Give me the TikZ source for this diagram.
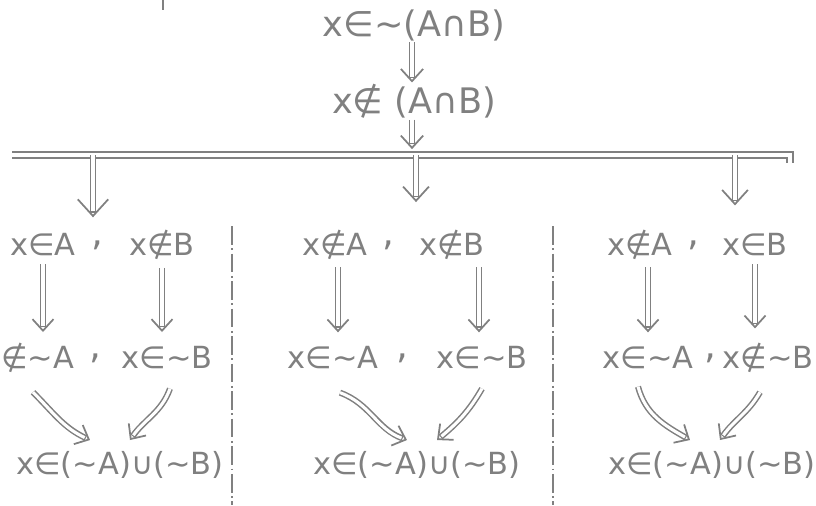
\documentclass[tikz,border=0pt]{standalone}
\usepackage{fontspec}
\setmainfont{DejaVu Sans}
\usetikzlibrary{arrows.meta,decorations.markings}
\definecolor{pencil}{HTML}{808080}

\begin{document}
\begin{tikzpicture}[x=0.03cm, y=-0.03cm, font=\fontsize{26}{30}\selectfont]
        \tikzset{stmt/.style={text=pencil, inner sep=1pt}, bigstmt/.style={stmt, font=\fontsize{30}{34}\selectfont}, commamark/.style={text=pencil, inner sep=1pt, font=\fontsize{32}{34}\selectfont}, headsize/.store in=\headw, headsize=18pt,
          imp/.style={draw=pencil, line width=5.2pt, shorten >=4pt, postaction={draw=white, line width=2.6pt, shorten >=5pt}, postaction={decorate, decoration={markings, mark=at position 1 with {\arrow[pencil, line width=1.5pt]{Straight Barb[length=0.55*\headw, width=\headw]}}}}},
          sep/.style={draw=pencil, line width=1.5pt, dash pattern=on 16pt off 3pt on 1.5pt off 3pt}}
        \useasboundingbox (0,0) rectangle (816,505);
        \draw[pencil, line width=1.5pt] (163,0) -- (163,10);
        \node[bigstmt] (top) at (414,25) {x∈∼(A∩B)};
        \node[bigstmt] (mid) at (414,101) {x∉ (A∩B)};
        \coordinate (bl) at (93,155);
        \coordinate (bm) at (416,155);
        \coordinate (br) at (735,155);
        \coordinate (bt) at (412,155);
        \draw[pencil, line width=1.3pt, double=white, double distance=4pt] (12,155) -- (790,155) -- (790,163);
        \draw[imp, headsize=19pt] (top.south -| bt) -- (mid.north -| bt);
        \draw[imp, headsize=19pt] (mid.south -| bt) -- ([yshift=5pt]bt);
        % left column
        \node[stmt] (l1a) at (43,245) {x∈A};
        \node[commamark] (l1c) at (97,245) {,};
        \node[stmt] (l1b) at (162,245) {x∉B};
        \node[stmt, anchor=west] (l2a) at (0,358) {∉∼A};
        \node[commamark] (l2c) at (95,358) {,};
        \node[stmt] (l2b) at (167,358) {x∈∼B};
        \node[stmt] (l3) at (120,465) {x∈(∼A)∪(∼B)};
        % middle column
        \node[stmt] (m1a) at (335,245) {x∉A};
        \node[commamark] (m1c) at (388,245) {,};
        \node[stmt] (m1b) at (452,245) {x∉B};
        \node[stmt] (m2a) at (333,358) {x∈∼A};
        \node[commamark] (m2c) at (402,358) {,};
        \node[stmt] (m2b) at (482,358) {x∈∼B};
        \node[stmt] (m3) at (417,465) {x∈(∼A)∪(∼B)};
        % right column
        \node[stmt] (r1a) at (640,245) {x∉A};
        \node[commamark] (r1c) at (693,245) {,};
        \node[stmt] (r1b) at (755,245) {x∈B};
        \node[stmt] (r2a) at (648,358) {x∈∼A};
        \node[commamark] (r2c) at (710,358) {,};
        \node[stmt] (r2b) at (768,358) {x∉∼B};
        \node[stmt] (r3) at (712,465) {x∈(∼A)∪(∼B)};
        \foreach \x in {232,553} {\draw[sep] (\x,226) -- (\x,505);}
        \draw[imp, headsize=26pt] (bl) -- ([yshift=0.45cm]bl |- l1a.north);
        \draw[imp, headsize=22pt] (bm) -- ([yshift=0.8cm]bm |- m1a.north);
        \draw[imp, headsize=22pt] (br) -- ([yshift=0.7cm]br |- r1a.north);
        \draw[imp] ([yshift=-0.2cm]l1a.south) -- ([yshift=0.4cm]l1a.south |- l2b.north);
        \draw[imp] ([yshift=-0.2cm]l1b.south) -- ([yshift=0.4cm]l1b.south |- l2b.north);
        \draw[imp] ([shift={(3,6)}]m1a.south) -- ([shift={(3,-13)}]m1a.south |- m2a.north);
        \draw[imp] ([shift={(27,6)}]m1b.south) -- ([shift={(27,-13)}]m1b.south |- m2b.north);
        \draw[imp] ([shift={(8,6)}]r1a.south) -- ([shift={(8,-13)}]r1a.south |- r2a.north);
        \draw[imp] ([yshift=-0.2cm]r1b.south) -- ([yshift=0.4cm]r1b.south |- r2b.north);
        \draw[imp] ([shift={(33,18)}]l2a.south west) to[out=-45, in=155] ([shift={(-30,-10)}]l3.north);
        \draw[imp] ([shift={(3,18)}]l2b.south) to[out=-110, in=55] ([shift={(10,-10)}]l3.north);
        \draw[imp] ([shift={(7,22)}]m2a.south) to[out=-20, in=160] ([shift={(-10,-10)}]m3.north);
        \draw[imp] ([shift={(0,18)}]m2b.south) to[out=-120, in=40] ([shift={(20,-10)}]m3.north);
        \draw[imp] ([shift={(-10,16)}]r2a.south) to[out=-75, in=150] ([shift={(-22,-10)}]r3.north);
        \draw[imp] ([shift={(-8,18)}]r2b.south) to[out=-120, in=55] ([shift={(8,-10)}]r3.north);
    \end{tikzpicture}
\end{document}
